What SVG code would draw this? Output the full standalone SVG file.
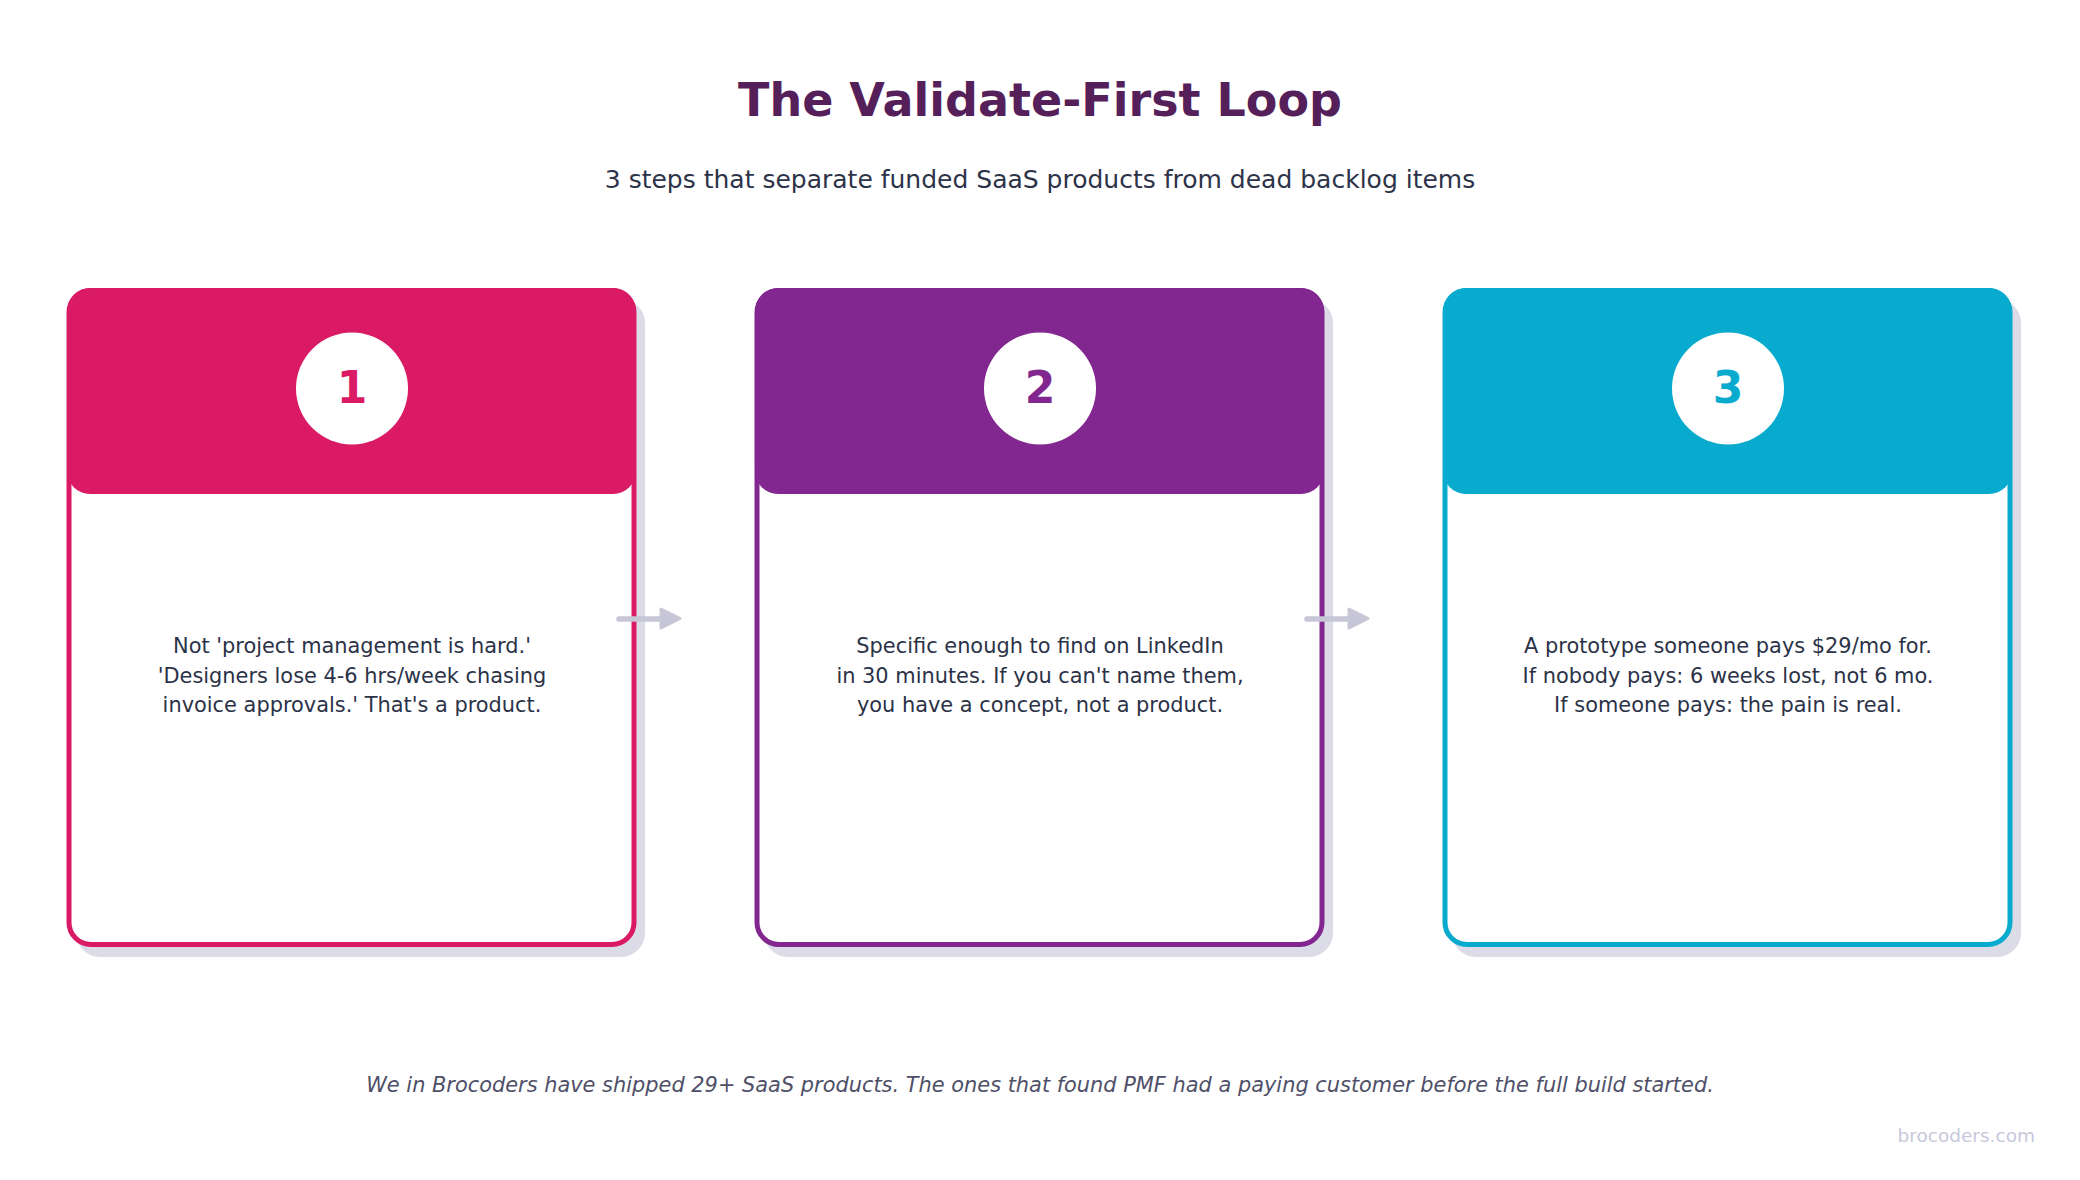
<svg xmlns="http://www.w3.org/2000/svg" width="2080" height="1180" viewBox="0 0 2080 1180">
<defs>
<style>
.title{font-family:"DejaVu Sans",sans-serif;font-weight:bold;font-size:46px;fill:#55205A;text-anchor:middle}
.sub{font-family:"DejaVu Sans",sans-serif;font-size:25px;fill:#2D3349;text-anchor:middle}
.body{font-family:"DejaVu Sans",sans-serif;font-size:20.9px;fill:#2B3247;text-anchor:middle}
.num{font-family:"DejaVu Sans",sans-serif;font-weight:bold;font-size:44px;text-anchor:middle}
.foot{font-family:"DejaVu Sans",sans-serif;font-style:italic;font-size:20.9px;fill:#4F5068;text-anchor:middle}
.mark{font-family:"DejaVu Sans",sans-serif;font-size:18.5px;fill:#C8C8DC;text-anchor:end}
.shadow{fill:#DCDCE8}
.card{fill:#FFFFFF;stroke-width:5}
.disc{fill:#FFFFFF}
.conn line{stroke:#C6C6D6;stroke-width:5.5;stroke-linecap:round}
.conn polygon{fill:#C6C6D6;stroke:#C6C6D6;stroke-width:3;stroke-linejoin:round}
</style>
</defs>
<rect width="2080" height="1180" fill="#FFFFFF"/>
<text class="title" x="1040" y="115.5">The Validate-First Loop</text>
<text class="sub" x="1040" y="188">3 steps that separate funded SaaS products from dead backlog items</text>

<g id="step1">
<rect class="shadow" x="76" y="299" width="569" height="658" rx="24"/>
<rect class="card" x="69" y="290.5" width="565" height="654" rx="22" stroke="#DA1A64"/>
<rect x="67" y="288" width="569" height="206" rx="23" fill="#DA1A64"/>
<circle class="disc" cx="352" cy="388.5" r="56"/>
<text class="num" x="352" y="403" fill="#DA1A64">1</text>
<text class="body" x="352" y="653">Not 'project management is hard.'</text>
<text class="body" x="352" y="682.5">'Designers lose 4-6 hrs/week chasing</text>
<text class="body" x="352" y="712">invoice approvals.' That's a product.</text>
</g>

<g id="step2">
<rect class="shadow" x="764" y="299" width="569" height="658" rx="24"/>
<rect class="card" x="757" y="290.5" width="565" height="654" rx="22" stroke="#82278F"/>
<rect x="755" y="288" width="569" height="206" rx="23" fill="#82278F"/>
<circle class="disc" cx="1040" cy="388.5" r="56"/>
<text class="num" x="1040" y="403" fill="#82278F">2</text>
<text class="body" x="1040" y="653">Specific enough to find on LinkedIn</text>
<text class="body" x="1040" y="682.5">in 30 minutes. If you can't name them,</text>
<text class="body" x="1040" y="712">you have a concept, not a product.</text>
</g>

<g id="step3">
<rect class="shadow" x="1452" y="299" width="569" height="658" rx="24"/>
<rect class="card" x="1445" y="290.5" width="565" height="654" rx="22" stroke="#08ABCD"/>
<rect x="1443" y="288" width="569" height="206" rx="23" fill="#08ABCD"/>
<circle class="disc" cx="1728" cy="388.5" r="56"/>
<text class="num" x="1728" y="403" fill="#08ABCD">3</text>
<text class="body" x="1728" y="653">A prototype someone pays $29/mo for.</text>
<text class="body" x="1728" y="682.5">If nobody pays: 6 weeks lost, not 6 mo.</text>
<text class="body" x="1728" y="712">If someone pays: the pain is real.</text>
</g>

<g id="connectors" class="conn">
<line x1="619" y1="619" x2="662" y2="619"/>
<polygon points="661,609 680,618.5 661,628"/>
<line x1="1307" y1="619" x2="1350" y2="619"/>
<polygon points="1349,609 1368,618.5 1349,628"/>
</g>

<text class="foot" x="1040" y="1092">We in Brocoders have shipped 29+ SaaS products. The ones that found PMF had a paying customer before the full build started.</text>
<text class="mark" x="2035" y="1142">brocoders.com</text>
</svg>
